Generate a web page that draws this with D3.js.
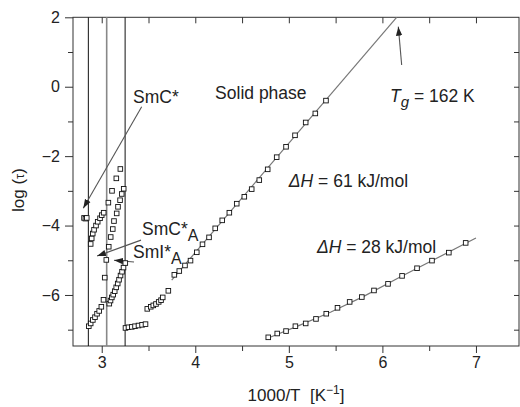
<!DOCTYPE html>
<html>
<head>
<meta charset="utf-8">
<script src="https://cdn.jsdelivr.net/npm/d3@7"></script>
<style>
    body { margin: 0; background: #fff; }
    text { font-family: "Liberation Sans", Arial, sans-serif; fill: #222; }
</style>
</head>
<body>
<svg id="chart" width="520" height="407"></svg>
<script>
// axis ticks
const xTicks = [3, 4, 5, 6, 7];
const yTicks = [-6, -4, -2, 0, 2];

// phase transition lines (1000/T)
const phaseLines = [2.857, 3.053, 3.25];
const phaseColors = ["#111", "#888", "#111"];

// SmC* phase, near 2.84
const smcX = [2.811, 2.826, 2.84];
const smcY = [-3.78, -3.8, -3.78];

// left branch, upper
const leftUpX = [2.882, 2.893, 2.904, 2.918, 2.939, 2.957, 2.982, 3.0, 3.021];
const leftUpY = [-4.53, -4.37, -4.23, -4.12, -4.0, -3.89, -3.79, -3.7, -3.63];

// left branch, lower
const leftLowX = [2.862, 2.882, 2.905, 2.928, 2.95, 2.973, 2.996, 3.019];
const leftLowY = [-6.9, -6.82, -6.72, -6.64, -6.54, -6.46, -6.34, -6.14];

// on the grey line
const midX = [3.049, 3.032];
const midY = [-4.99, -5.5];

// SmC*A, sparse upper points
const sparseX = [3.071, 3.11, 3.156, 3.199];
const sparseY = [-3.34, -3.0, -2.64, -2.37];

// SmC*A, dense upper points
const denseX = [3.075, 3.096, 3.118, 3.131, 3.16, 3.174, 3.196, 3.214, 3.235];
const denseY = [-4.61, -4.33, -4.1, -3.87, -3.65, -3.46, -3.27, -3.09, -2.94];

// SmI*A, lower points
const smiX = [3.081, 3.094, 3.108, 3.123, 3.139, 3.155, 3.171, 3.185, 3.201, 3.217, 3.233, 3.252];
const smiY = [-6.25, -6.16, -6.07, -5.99, -5.89, -5.78, -5.67, -5.56, -5.44, -5.33, -5.21, -5.08];

// flat cluster right of 3.25
const flatX = [3.254, 3.286, 3.321, 3.356, 3.393, 3.431, 3.468];
const flatY = [-6.95, -6.93, -6.92, -6.9, -6.88, -6.86, -6.84];

// cluster before solid branch
const preX = [3.487, 3.524, 3.551, 3.58, 3.609, 3.634, 3.652, 3.712];
const preY = [-6.4, -6.34, -6.3, -6.26, -6.2, -6.15, -6.07, -5.88];

// solid phase, 61 kJ/mol
const solidX = [3.776, 3.829, 3.89, 3.949, 4.016, 4.077, 4.147, 4.213, 4.288, 4.364, 4.443,
    4.524, 4.603, 4.684, 4.774, 4.87, 4.97, 5.066, 5.18, 5.283, 5.397];
const solidY = [-5.42, -5.31, -5.15, -5.01, -4.77, -4.54, -4.34, -4.08, -3.85, -3.63, -3.37,
    -3.17, -2.95, -2.69, -2.38, -2.03, -1.73, -1.4, -1.03, -0.77, -0.4];
const solidFitX = [3.748, 6.152];
const solidFitY = [-5.57, 2.0];

// glassy, 28 kJ/mol
const glassX = [4.78, 4.876, 4.97, 5.07, 5.18, 5.29, 5.4, 5.52, 5.65, 5.78, 5.91, 6.06,
    6.21, 6.37, 6.53, 6.71, 6.89];
const glassY = [-7.22, -7.11, -7.04, -6.9, -6.82, -6.69, -6.54, -6.37, -6.2, -6.06, -5.87,
    -5.68, -5.45, -5.23, -5.01, -4.78, -4.5];
const glassFitX = [4.76, 5.1, 5.45, 5.8, 6.2, 7.0];
const glassFitY = [-7.26, -6.89, -6.49, -6.04, -5.47, -4.36];

// annotation arrows [x1, y1, x2, y2] in data units
const arrows = [
    [3.427, -0.577, 2.803, -3.5],
    [3.42, -4.42, 2.95, -4.88],
    [3.345, -5.05, 3.131, -5.0],
    [6.206, 0.625, 6.17, 1.73],
];

const svg = d3.select("#chart");
const mLeft = 73, mRight = 519, mTop = 17.3, mBottom = 346;

const x = d3.scaleLinear().domain([2.693, 7.46]).range([mLeft, mRight]);
const y = d3.scaleLinear().domain([-7.47, 2]).range([mBottom, mTop]);

const pairs = (xs, ys) => xs.map((v, i) => [v, ys[i]]);

// frame
svg.append("rect")
    .attr("x", mLeft).attr("y", mTop)
    .attr("width", mRight - mLeft).attr("height", mBottom - mTop)
    .attr("fill", "none").attr("stroke", "#333");

// bottom axis
const halfX = d3.range(3, 7.01, 0.5);
svg.append("g")
    .attr("transform", `translate(0,${mBottom})`)
    .call(d3.axisBottom(x).tickValues(halfX).tickSizeOuter(0)
        .tickSize(7).tickPadding(4)
        .tickFormat((d) => (xTicks.includes(d) ? d : "")))
    .call((g) => g.select(".domain").remove())
    .call((g) => g.selectAll(".tick line").attr("stroke", "#333")
        .attr("y2", (d) => (xTicks.includes(d) ? 7 : 5)))
    .call((g) => g.selectAll("text").attr("font-size", 16).attr("fill", "#222")
        .attr("font-family", "Liberation Sans, Arial, sans-serif"));

// top axis, ticks inward
svg.append("g")
    .attr("transform", `translate(0,${mTop})`)
    .call(d3.axisBottom(x).tickValues(halfX).tickSize(6).tickFormat(""))
    .call((g) => g.select(".domain").remove())
    .call((g) => g.selectAll(".tick line").attr("stroke", "#333"));

// left axis
const halfY = d3.range(-7, 2.01, 1);
svg.append("g")
    .attr("transform", `translate(${mLeft},0)`)
    .call(d3.axisLeft(y).tickValues(halfY).tickSize(8).tickPadding(5)
        .tickFormat((d) => (yTicks.includes(d) ? d3.format("d")(d) : "")))
    .call((g) => g.select(".domain").remove())
    .call((g) => g.selectAll(".tick line").attr("stroke", "#333")
        .attr("x2", (d) => (yTicks.includes(d) ? -8 : -5)))
    .call((g) => g.selectAll("text").attr("font-size", 16).attr("fill", "#222")
        .attr("font-family", "Liberation Sans, Arial, sans-serif"));

// right axis, ticks inward
svg.append("g")
    .attr("transform", `translate(${mRight},0)`)
    .call(d3.axisLeft(y).tickValues(d3.range(-7, 1.01, 1)).tickSize(5).tickFormat(""))
    .call((g) => g.select(".domain").remove())
    .call((g) => g.selectAll(".tick line").attr("stroke", "#333").attr("x2", -5));

// axis titles
const xl = svg.append("text")
    .attr("x", (mLeft + mRight) / 2)
    .attr("y", 401)
    .attr("text-anchor", "middle")
    .attr("font-size", 17);
xl.append("tspan").text("1000/T\u00a0\u00a0[K");
xl.append("tspan").attr("font-size", 12).attr("dy", -7).text("−1");
xl.append("tspan").attr("dy", 7).text("]");

const yl = svg.append("text")
    .attr("transform", "translate(24,190) rotate(-90)")
    .attr("text-anchor", "middle")
    .attr("font-size", 17);
yl.append("tspan").text("log (");
yl.append("tspan").attr("font-size", 13).text("τ");
yl.append("tspan").text(")");

// phase lines
svg.append("g")
    .selectAll("line")
    .data(phaseLines)
    .enter()
    .append("line")
    .attr("x1", (d) => x(d)).attr("x2", (d) => x(d))
    .attr("y1", mTop).attr("y2", mBottom)
    .attr("stroke", (d, i) => phaseColors[i])
    .attr("stroke-width", (d, i) => (i === 1 ? 1.6 : 1));

// fit lines
const line = d3.line().x((d) => x(d[0])).y((d) => y(d[1]));
[pairs(solidFitX, solidFitY), pairs(glassFitX, glassFitY)].forEach((pts) => {
    svg.append("path")
        .attr("d", line(pts))
        .attr("fill", "none")
        .attr("stroke", "#777")
        .attr("stroke-width", 1.2);
});

// arrows
svg.append("defs").append("marker")
    .attr("id", "head")
    .attr("viewBox", "0 0 10 10")
    .attr("refX", 10).attr("refY", 5)
    .attr("markerWidth", 9).attr("markerHeight", 9)
    .attr("markerUnits", "userSpaceOnUse")
    .attr("orient", "auto")
    .append("path")
    .attr("d", "M0,1.5 L10,5 L0,8.5 Z")
    .attr("fill", "#222");

svg.append("g")
    .selectAll("line")
    .data(arrows)
    .enter()
    .append("line")
    .attr("x1", (d) => x(d[0])).attr("y1", (d) => y(d[1]))
    .attr("x2", (d) => x(d[2])).attr("y2", (d) => y(d[3]))
    .attr("stroke", "#555")
    .attr("stroke-width", 1.1)
    .attr("marker-end", "url(#head)");

// data squares
const allPoints = [
    pairs(smcX, smcY), pairs(leftUpX, leftUpY), pairs(leftLowX, leftLowY),
    pairs(midX, midY), pairs(sparseX, sparseY), pairs(denseX, denseY),
    pairs(smiX, smiY), pairs(flatX, flatY), pairs(preX, preY),
    pairs(solidX, solidY), pairs(glassX, glassY),
].flat();

const sz = 4.6;
svg.append("g")
    .selectAll("rect")
    .data(allPoints)
    .enter()
    .append("rect")
    .attr("x", (d) => x(d[0]) - sz / 2)
    .attr("y", (d) => y(d[1]) - sz / 2)
    .attr("width", sz).attr("height", sz)
    .attr("fill", "#fff")
    .attr("stroke", "#111")
    .attr("stroke-width", 0.9);

// labels
const lbl = (xv, yv) => svg.append("text").attr("x", x(xv)).attr("y", y(yv)).attr("font-size", 17.5);

lbl(3.335, -0.47).text("SmC*");
lbl(4.212, -0.357).text("Solid phase");

const tg = lbl(6.081, -0.43);
tg.append("tspan").attr("font-style", "italic").text("T");
tg.append("tspan").attr("font-style", "italic").attr("font-size", 15).attr("dy", 5).text("g");
tg.append("tspan").attr("dy", -5).text(" = 162 K");

const h61 = lbl(5.0, -2.89);
h61.append("tspan").attr("font-style", "italic").text("ΔH");
h61.append("tspan").text(" = 61 kJ/mol");

const h28 = lbl(5.3, -4.79);
h28.append("tspan").attr("font-style", "italic").text("ΔH");
h28.append("tspan").text(" = 28 kJ/mol");

const sca = lbl(3.431, -4.27);
sca.append("tspan").text("SmC*");
sca.append("tspan").attr("font-size", 16).attr("dy", 6).text("A");

const sia = lbl(3.335, -4.94);
sia.append("tspan").text("SmI*");
sia.append("tspan").attr("font-size", 16).attr("dy", 6).text("A");
</script>
</body>
</html>
